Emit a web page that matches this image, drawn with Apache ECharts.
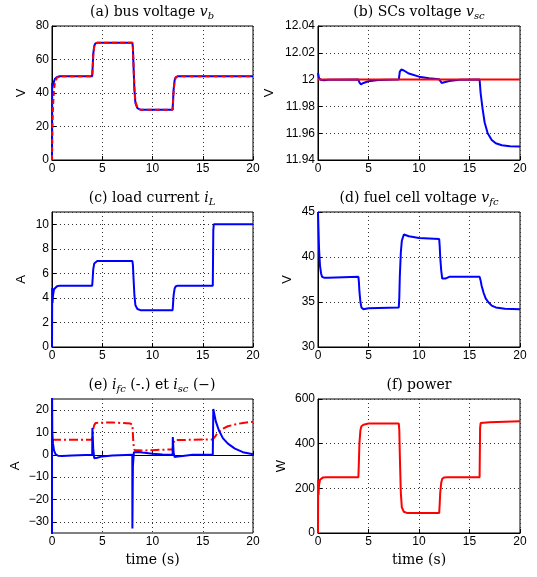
<!DOCTYPE html>
<html><head><meta charset="utf-8">
<script src="https://cdn.jsdelivr.net/npm/echarts@6/dist/echarts.min.js"></script>
<style>html,body{margin:0;padding:0;background:#fff}#c{width:537px;height:577px}</style>
</head><body><div id="c"></div>
<script>
// ---- data ----
const xTicks = [0, 5, 10, 15, 20];

// (a) bus voltage
const tA = [0, 0.02, 0.05, 0.1, 0.2, 0.3, 0.5, 0.8, 4, 4.05, 4.1, 4.2, 4.3, 4.5, 5, 8, 8.05, 8.1, 8.2, 8.3, 8.5, 8.8, 12, 12.05, 12.1, 12.2, 12.3, 12.5, 12.8, 20];
const vbMeas = [0, 46, 47, 44, 47, 48.5, 49.5, 50, 50, 56, 63, 68, 69.5, 70, 70, 70, 67, 58, 42, 34, 31, 30, 30, 36, 42, 47.5, 49.3, 50, 50, 50];
const vbRef  = [0, 10, 22, 32, 42, 46.5, 49.2, 50, 50, 55, 62, 67.5, 69.3, 70, 70, 70, 67, 59, 43, 35, 31, 30, 30, 35, 41, 47, 49, 50, 50, 50];

// (b) SCs voltage
const tB = [0, 0.1, 0.3, 0.6, 1, 4, 4.1, 4.25, 4.5, 5, 6, 8, 8.1, 8.25, 8.5, 9, 10, 11, 12, 12.1, 12.25, 12.5, 13, 14, 16, 16.1, 16.3, 16.5, 16.8, 17.2, 17.6, 18.2, 19, 20];
const vscMeas = [12.005, 12.001, 11.9998, 11.9995, 11.9998, 12.0, 11.998, 11.9965, 11.9975, 11.9988, 11.9997, 12.0, 12.006, 12.0075, 12.0068, 12.0045, 12.0022, 12.001, 12.0002, 11.999, 11.9975, 11.998, 11.999, 11.9998, 12.0, 11.99, 11.978, 11.968, 11.96, 11.955, 11.9525, 11.951, 11.9503, 11.950];
const tBref = [0, 20];
const vscRef = [12, 12];

// (c) load current
const tC = [0, 0.02, 0.05, 0.1, 0.2, 0.3, 0.5, 0.8, 4, 4.05, 4.1, 4.2, 4.3, 4.5, 5, 8, 8.05, 8.1, 8.2, 8.3, 8.5, 8.8, 12, 12.05, 12.1, 12.2, 12.3, 12.5, 12.8, 16, 16.05, 16.1, 20];
const iL = [0, 4.8, 3.6, 4.2, 4.7, 4.85, 4.95, 5, 5, 5.6, 6.3, 6.8, 6.95, 7, 7, 7, 6.7, 5.8, 4.2, 3.4, 3.1, 3, 3, 3.6, 4.2, 4.75, 4.93, 5, 5, 5, 9.5, 10, 10];

// (d) fuel cell voltage
const tD = [0, 0.05, 0.1, 0.2, 0.3, 0.4, 0.6, 1, 4, 4.05, 4.1, 4.2, 4.3, 4.5, 5, 8, 8.05, 8.1, 8.2, 8.3, 8.5, 9, 10, 12, 12.05, 12.1, 12.2, 12.3, 12.6, 13, 16, 16.1, 16.2, 16.4, 16.6, 16.85, 17.2, 17.6, 18.5, 20];
const vfc = [45, 43, 41, 39, 38.2, 37.8, 37.7, 37.7, 37.8, 37.2, 36.2, 35, 34.4, 34.2, 34.3, 34.4, 35.5, 37.8, 40.5, 41.8, 42.5, 42.3, 42.1, 42.0, 41.2, 40, 38.5, 37.6, 37.6, 37.8, 37.8, 37.4, 36.8, 36.0, 35.4, 35.0, 34.6, 34.4, 34.25, 34.2];

// (e) currents
const tFc = [0, 0.02, 4, 4.05, 4.1, 4.2, 4.35, 4.5, 6, 7.8, 8, 8.1, 8.2, 8.3, 9, 10, 11, 12, 12.05, 12.1, 12.2, 12.3, 16, 16.2, 16.4, 16.6, 17, 17.5, 18.2, 19, 20];
const ifc = [6.8, 6.8, 6.8, 9, 11.5, 13.3, 14.3, 14.5, 14.5, 14.0, 13.5, 5, 2.2, 1.8, 1.9, 2.1, 2.3, 2.4, 4, 5.5, 6.6, 6.9, 6.9, 8.0, 9.3, 10.3, 11.7, 12.8, 13.6, 14.3, 14.8];
const tSc = [0, 0.005, 0.03, 0.1, 0.2, 0.35, 0.6, 1, 2, 4, 4.02, 4.1, 4.2, 4.5, 5, 6, 7.99, 8.0, 8.05, 8.15, 8.3, 8.6, 9, 10, 11, 12, 12.02, 12.1, 12.2, 12.5, 13, 14, 16, 16.05, 16.3, 16.6, 17, 17.5, 18.2, 19, 20];
const isc = [-40, 30, 10, 5, 2, 0.3, -0.4, -0.5, -0.3, 0, 12, 3, -1.5, -1.3, -0.7, -0.3, 0, -33, -5, 1.2, 1.5, 1.3, 1.0, 0.5, 0.2, 0, 8, 1, -1, -0.8, -0.5, 0, 0, 20.5, 15, 11, 7.5, 5, 2.8, 1.2, 0.3];

// (f) power
const tP = [0, 0.02, 0.05, 0.1, 0.2, 0.3, 0.5, 0.8, 4, 4.05, 4.1, 4.2, 4.3, 4.5, 5, 8, 8.05, 8.1, 8.2, 8.3, 8.5, 8.8, 12, 12.05, 12.1, 12.2, 12.3, 12.5, 12.8, 16, 16.05, 16.1, 17, 20];
const power = [0, 240, 170, 215, 238, 245, 249, 250, 250, 320, 400, 460, 478, 485, 490, 490, 460, 350, 180, 115, 95, 90, 90, 130, 180, 225, 243, 249, 250, 250, 470, 492, 496, 500];

// ---- chart ----
const zip = (t, v) => t.map((x, i) => [x, v[i]]);
const BLUE = '#0000ff', RED = '#ff0000';
const serif = 'DejaVu Serif';
const sans = 'Liberation Sans';

// (e) y range is -35..25 but ticks at -30..20: an overlay grid spans the tick range exactly
const eTop = 399, eH = 134, eMin = -35, eMax = 25, eTickMin = -30, eTickMax = 20;
const ePx = eH / (eMax - eMin);

const grids = [
  {left: 52, top: 26, width: 201, height: 134},
  {left: 318, top: 26, width: 202, height: 134},
  {left: 52, top: 212, width: 201, height: 135},
  {left: 318, top: 212, width: 202, height: 135},
  {left: 52, top: eTop, width: 201, height: eH},
  {left: 318, top: 399, width: 202, height: 134}
].map(g => Object.assign(g, {show: true, borderColor: '#000', borderWidth: 1, backgroundColor: '#fff'}));
grids.push({left: 52, width: 201, top: eTop + (eMax - eTickMax) * ePx, height: (eTickMax - eTickMin) * ePx, show: false});

const split = {show: true, lineStyle: {color: '#333', type: [1, 3], width: 1}};
const lbl = {color: '#000', fontFamily: sans, fontSize: 12};
function xAx(i, withName) {
  return {type: 'value', gridIndex: i, min: 0, max: 20, interval: 5,
    axisLine: {show: true, lineStyle: {color: '#000'}},
    axisTick: {show: true, inside: true, length: 4, lineStyle: {color: '#000'}},
    axisLabel: Object.assign({margin: 3}, lbl),
    splitLine: split,
    name: withName ? 'time (s)' : '', nameLocation: 'middle', nameGap: 20,
    nameTextStyle: {fontFamily: serif, fontSize: 14, color: '#000'}};
}
function yAx(i, min, max, interval, name, gap, extra) {
  return Object.assign({type: 'value', gridIndex: i, min: min, max: max, interval: interval,
    axisLine: {show: true, lineStyle: {color: '#000'}},
    axisTick: {show: true, inside: true, length: 4, lineStyle: {color: '#000'}},
    axisLabel: Object.assign({margin: 3, showMaxLabel: true, formatter: v => String(+v.toFixed(4)).replace('-', '\u2212')}, lbl),
    splitLine: split,
    name: name, nameLocation: 'middle', nameGap: gap, nameRotate: 90,
    nameTextStyle: {fontFamily: sans, fontSize: 13, color: '#000'}}, extra || {});
}

const line = (xi, data, color, type) => ({type: 'line', xAxisIndex: xi, yAxisIndex: xi, data: data,
  showSymbol: false, symbol: 'none', clip: true, silent: true,
  lineStyle: {color: color, width: 2, type: type || 'solid'}});

const rich = {
  n: {fontFamily: serif, fontSize: 14, color: '#000', lineHeight: 18},
  i: {fontFamily: serif, fontSize: 14, fontStyle: 'italic', color: '#000', lineHeight: 18},
  s: {fontFamily: serif, fontSize: 10, fontStyle: 'italic', color: '#000', lineHeight: 10, verticalAlign: 'bottom'}
};
const titles = [
  [152, 12, '{n|(a) bus voltage }{i|v}{s|b}'],
  [419, 12, '{n|(b) SCs voltage }{i|v}{s|sc}'],
  [152, 198, '{n|(c) load current }{i|i}{s|L}'],
  [419, 198, '{n|(d) fuel cell voltage }{i|v}{s|fc}'],
  [152, 385, '{n|(e) }{i|i}{s|fc}{n| (-.) et }{i|i}{s|sc}{n| (\u2212)}'],
  [419, 385, '{n|(f) power}']
];

const xAxes = [xAx(0), xAx(1), xAx(2), xAx(3), xAx(4, true), xAx(5, true)];
xAxes.push({type: 'value', gridIndex: 6, min: 0, max: 20, show: false});

const option = {
  animation: false,
  backgroundColor: '#fff',
  grid: grids,
  xAxis: xAxes,
  yAxis: [
    yAx(0, 0, 80, 20, 'V', 24),
    yAx(1, 11.94, 12.04, 0.02, 'V', 42),
    yAx(2, 0, 11, 2, 'A', 24, {axisLabel: Object.assign({margin: 3, showMaxLabel: false}, lbl)}),
    yAx(3, 30, 45, 5, 'V', 24),
    yAx(4, eMin, eMax, 5, 'A', 30, {axisLabel: {show: false}, axisTick: {show: false}, splitLine: {show: false}}),
    yAx(5, 0, 600, 200, 'W', 30),
    {type: 'value', gridIndex: 6, min: eTickMin, max: eTickMax, interval: 10,
      axisLine: {show: false},
      axisTick: {show: true, inside: true, length: 4, lineStyle: {color: '#000'}},
      axisLabel: Object.assign({margin: 3, formatter: v => String(v).replace('-', '\u2212')}, lbl),
      splitLine: split}
  ],
  series: [
    line(0, zip(tA, vbMeas), BLUE),
    line(0, zip(tA, vbRef), RED, [5, 3]),
    line(1, zip(tB, vscMeas), BLUE),
    line(1, zip(tBref, vscRef), RED),
    line(2, zip(tC, iL), BLUE),
    line(3, zip(tD, vfc), BLUE),
    line(4, zip(tFc, ifc), RED, [9, 3, 2, 3]),
    line(4, zip(tSc, isc), BLUE),
    line(5, zip(tP, power), RED)
  ],
  graphic: titles.map(t => ({type: 'text', x: t[0], y: t[1], silent: true,
    style: {text: t[2], align: 'center', verticalAlign: 'middle', rich: rich}}))
};
const chart = echarts.init(document.getElementById('c'), null, {renderer: 'canvas'});
chart.setOption(option);
</script></body></html>
